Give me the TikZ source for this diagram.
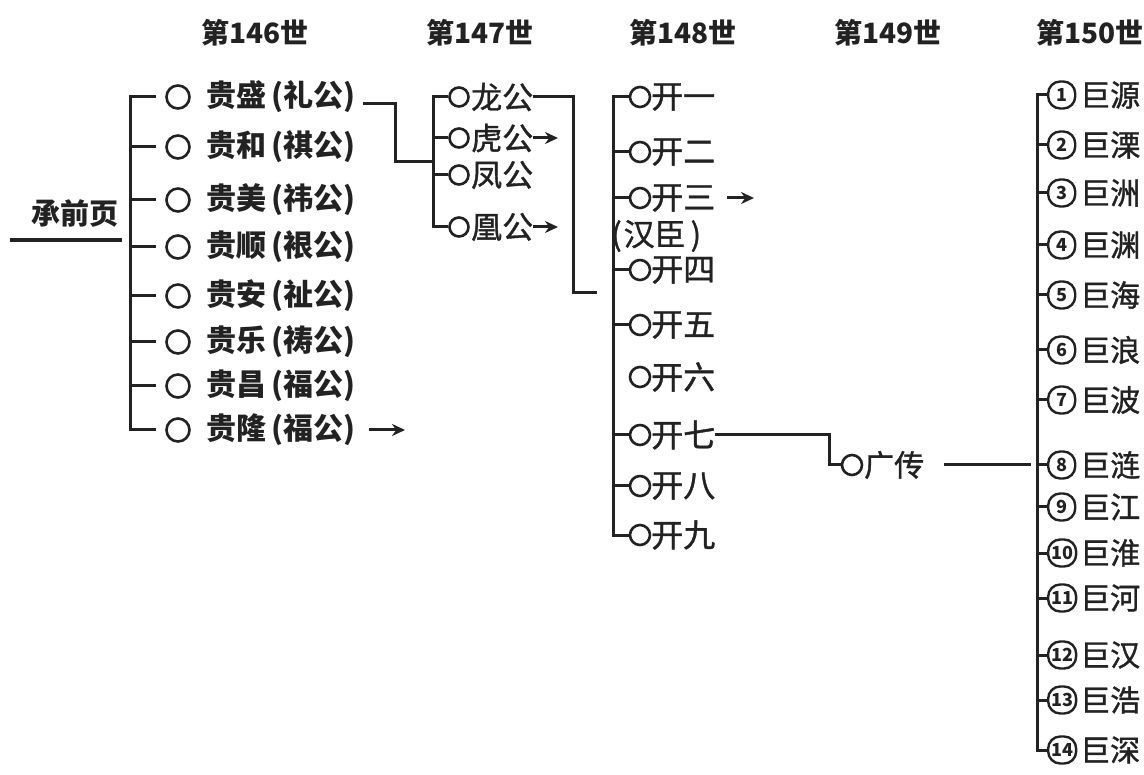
\documentclass[tikz,border=0pt]{standalone}
\usepackage{fontspec}
\setmainfont{Noto Sans CJK SC}
\newfontfamily\med{Noto Sans CJK SC}[FakeBold=1.2]
\usetikzlibrary{arrows.meta}
\definecolor{ink}{HTML}{222222}
\begin{document}
\begin{tikzpicture}[x=1pt,y=-1pt,
  ln/.style={draw=ink, line width=3pt},
  arr/.style={draw=ink, line width=3pt, -{Stealth[length=13pt,width=12pt]}},
  dot/.style={circle, draw=ink, line width=2.6pt, minimum size=20pt, inner sep=0pt},
  bigdot/.style={dot, minimum size=23pt},
  numc/.style={draw=ink, line width=2.4pt, rounded corners=12pt, minimum height=27pt, minimum width=27pt, inner xsep=3pt, inner ysep=0pt, text=ink, font=\fontsize{18}{18}\selectfont\bfseries},
  txt/.style={anchor=west, inner sep=0pt, text=ink},
  hd/.style={inner sep=0pt, text=ink, font=\fontsize{28}{28}\selectfont\bfseries}]
\fill[white] (0,0) rectangle (1144,775);
\useasboundingbox (0,0) rectangle (1144,775);

% headers
\node[hd] (h146) at (255,33) {第146世};
\node[hd] (h147) at (480,33) {第147世};
\node[hd] (h148) at (683,33) {第148世};
\node[hd] (h149) at (888,33) {第149世};
\node[hd] (h150) at (1090,33) {第150世};

% 承前页
\node[hd, font=\fontsize{29}{29}\selectfont\bfseries] (qp) at (75,213) {承前页};
\coordinate (ul1) at (10,240);
\coordinate (ul2) at (122,240);
\draw[ink, line width=3.4pt] (ul1) -- (ul2);

% bracket x positions
\coordinate (b146) at (130,0);
\coordinate (b147) at (433,0);
\coordinate (b148) at (613,0);
\coordinate (b150) at (1037,0);

% generation 146
\foreach \i/\y/\t in {1/97/贵盛\,(礼公),2/147/贵和\,(祺公),3/200/贵美\,(祎公),4/247/贵顺\,(裉公),5/296/贵安\,(祉公),6/342/贵乐\,(祷公),7/386/贵昌\,(福公),8/430/贵隆\,(福公)}{
  \node[bigdot] (g\i) at (178,\y) {};
  \node[txt, font=\fontsize{30}{30}\selectfont\bfseries] (gt\i) at (206,\y) {\t};
}
\draw[ln] ([xshift=-9pt]g1.west) -- (g1.west -| b146) -- (g8.west -| b146) -- ([xshift=-9pt]g8.west);
\foreach \i in {2,...,7}{
  \draw[ln] (g\i.west -| b146) -- ([xshift=-9pt]g\i.west);
}
\coordinate (a146) at (405,0);
\draw[arr] ([xshift=14pt]gt8.east) -- (gt8.east -| a146);

% generation 147
\foreach \i/\y/\t in {1/97/龙公,2/138/虎公,3/175/凤公,4/227/凰公}{
  \node[dot, minimum size=19pt] (l\i) at (459,\y) {};
  \node[txt, font=\fontsize{31}{31}\selectfont\med] (lt\i) at (471,\y) {\t};
}
\draw[ln] (l1.west) -- (l1.west -| b147) -- (l4.west -| b147) -- (l4.west);
\foreach \i in {2,3}{
  \draw[ln] (l\i.west -| b147) -- (l\i.west);
}
\coordinate (j1) at (395,162);
\draw[ln] ([xshift=8pt,yshift=-7pt]gt1.east) -| (j1) -- (j1 -| b147);
\coordinate (a147) at (558,0);
\draw[arr] (lt2.east) -- (lt2.east -| a147);
\draw[arr] (lt4.east) -- (lt4.east -| a147);

% generation 148
\foreach \i/\y/\t in {1/97/开一,2/152/开二,3/198/开三,4/270/开四,5/325/开五,6/377/开六,7/435/开七,8/486/开八,9/535/开九}{
  \node[dot] (k\i) at (640,\y) {};
  \node[txt, font=\fontsize{32}{32}\selectfont\med] (kt\i) at (651,\y) {\t};
}
\node[txt, font=\fontsize{31}{31}\selectfont\med] (hc) at (611,236) {(\hspace{2pt}汉臣\hspace{5pt})};
\draw[ln] (k1.west) -- (k1.west -| b148) -- (k9.west -| b148) -- (k9.west);
\foreach \i in {2,3,4,5,7,8}{
  \draw[ln] (k\i.west -| b148) -- (k\i.west);
}
\coordinate (a148) at (754,0);
\draw[arr] ([xshift=12pt]kt3.east) -- (kt3.east -| a148);
\coordinate (j2) at (573,293);
\coordinate (j2e) at (597,293);
\draw[ln] (lt1.east) -| (j2) -- (j2e);

% generation 149
\node[dot] (gz) at (852,465) {};
\node[txt, font=\fontsize{30}{30}\selectfont\med] (gzt) at (864,465) {广传};
\coordinate (j3) at (829,465);
\draw[ln] (kt7.east) -| (j3) -- (gz.west);

% generation 150
\foreach \i/\y/\t in {1/95/巨源,2/145/巨溧,3/193/巨洲,4/245/巨渊,5/295/巨海,6/350/巨浪,7/400/巨波,8/465/巨涟,9/507/巨江,10/553/巨淮,11/598/巨河,12/655/巨汉,13/700/巨浩,14/750/巨深}{
  \node[numc, anchor=west] (n\i) at (1047,\y) {\i};
  \node[txt, font=\fontsize{30}{30}\selectfont\med] (w\i) at (1080,\y) {\t};
}
\draw[ln] (n1.west) -- (n1.west -| b150) -- (n14.west -| b150) -- (n14.west);
\foreach \i in {2,...,13}{
  \draw[ln] (n\i.west -| b150) -- (n\i.west);
}
\coordinate (c150) at (1031,0);
\draw[ln] ([xshift=20pt]gz.east -| gzt.east) -- (gz.east -| c150);
\end{tikzpicture}
\end{document}
